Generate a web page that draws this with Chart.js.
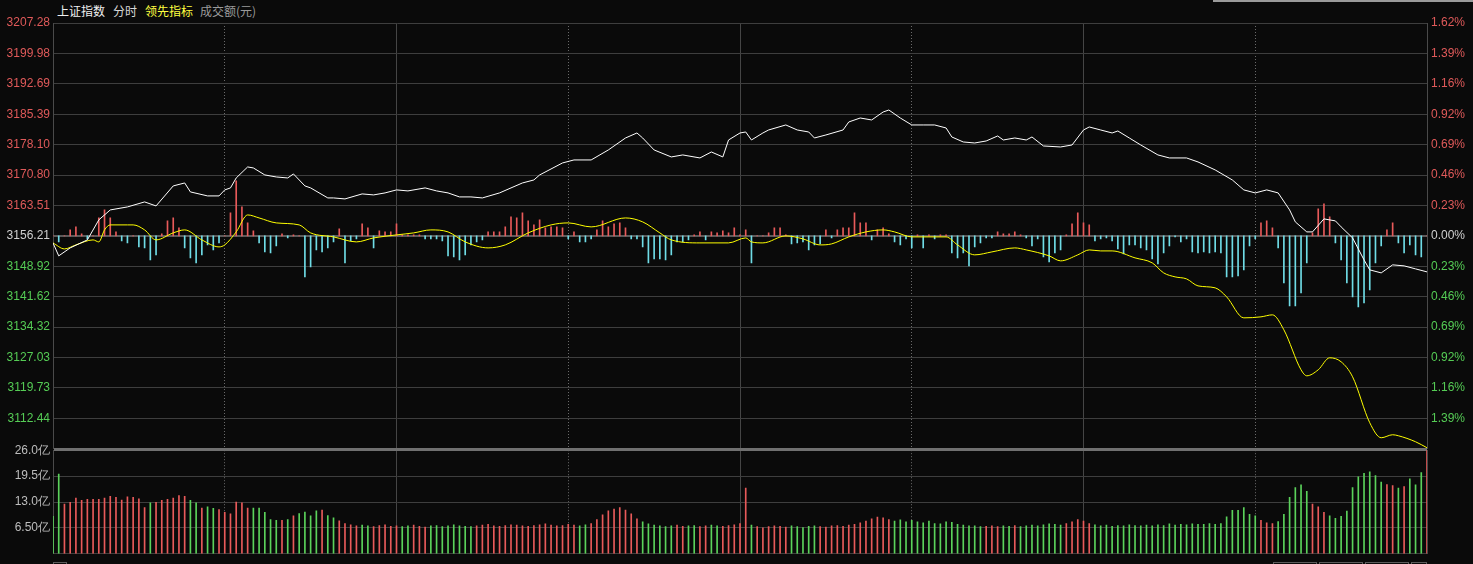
<!DOCTYPE html>
<html><head><meta charset="utf-8">
<script src="https://cdn.jsdelivr.net/npm/chart.js@4"></script>
<style>
html,body{margin:0;padding:0;background:#0a0a0a;width:1473px;height:564px;overflow:hidden;}
#c1{position:absolute;left:0;top:0;}
#c2{position:absolute;left:0;top:440px;}
.hd{position:absolute;top:3px;font:12px "Noto Sans CJK SC","Liberation Sans",sans-serif;white-space:nowrap;line-height:16px;}
#topbar{position:absolute;left:1213px;top:0;width:260px;height:2px;background:#9a9a9a;}
.tb{position:absolute;top:562px;height:4px;border:1px solid #5a5a5a;border-bottom:none;box-sizing:border-box;}
</style></head><body>
<div class="hd" style="left:57px;color:#f0f0f0">上证指数</div>
<div class="hd" style="left:113px;color:#d8d8d8">分时</div>
<div class="hd" style="left:145px;color:#ffff40">领先指标</div>
<div class="hd" style="left:200px;color:#9a9a9a">成交额(元)</div>
<div id="topbar"></div>
<canvas id="c1" width="1473" height="460"></canvas>
<canvas id="c2" width="1473" height="124"></canvas>
<div class="tb" style="left:53px;width:14px"></div>
<div class="tb" style="left:1273px;width:44px"></div>
<div class="tb" style="left:1319px;width:44px"></div>
<div class="tb" style="left:1365px;width:44px"></div>
<div class="tb" style="left:1411px;width:16px"></div>
<script>
const prevClose = 3156.21;
const priceTicks = [3207.28,3199.98,3192.69,3185.39,3178.10,3170.80,3163.51,3156.21,3148.92,3141.62,3134.32,3127.03,3119.73,3112.44,3105.14];
const pctLabels = ['1.62%','1.39%','1.16%','0.92%','0.69%','0.46%','0.23%','0.00%','0.23%','0.46%','0.69%','0.92%','1.16%','1.39%',''];
const volTicks = [0,6.5,13,19.5,26];
const volLabels = ['','6.50亿','13.0亿','19.5亿','26.0亿'];

const indexMinutes = [0,1,3,6,8,10,13,16,18,21,23,24,27,29,30,31,32,34,35,37,39,41,42,44,45,48,49,51,54,56,58,60,62,65,67,69,71,73,75,78,80,82,84,85,89,91,94,97,100,102,103,105,108,110,113,115,117,118,120,121,122,124,125,128,130,132,133,135,138,139,141,143,145,146,148,150,152,154,156,157,159,161,163,165,166,168,170,171,173,176,178,180,181,183,185,186,188,190,193,195,198,200,203,206,208,210,212,214,216,217,219,220,222,224,225,227,229,230,232,234,236,238,240];
const indexValues = [3154.53,3151.42,3153.33,3155.25,3160.05,3162.44,3163.16,3164.36,3163.40,3168.20,3168.91,3166.76,3165.80,3165.80,3167.24,3167.72,3170.11,3172.75,3172.51,3170.83,3170.35,3170.11,3171.07,3168.20,3167.72,3165.32,3165.32,3165.08,3166.28,3166.04,3166.52,3167.24,3167.00,3167.72,3167.00,3166.52,3165.56,3165.56,3165.32,3166.52,3167.72,3168.91,3169.63,3170.83,3173.71,3174.43,3174.43,3176.82,3179.70,3180.90,3179.70,3176.82,3175.15,3175.63,3174.91,3176.34,3175.15,3179.22,3180.90,3181.14,3179.22,3180.90,3181.62,3182.82,3181.62,3181.14,3179.70,3180.42,3181.62,3183.54,3184.49,3184.02,3185.93,3186.41,3184.49,3182.82,3182.82,3182.82,3182.10,3179.94,3178.74,3178.50,3178.98,3180.18,3179.22,3179.70,3179.22,3179.94,3177.78,3177.54,3178.02,3181.62,3182.34,3181.62,3180.90,3181.38,3179.70,3178.02,3175.63,3174.91,3174.91,3173.95,3172.03,3169.63,3167.24,3166.52,3167.24,3166.52,3162.44,3159.57,3157.17,3157.17,3160.29,3159.81,3158.37,3155.73,3150.46,3148.06,3147.34,3149.26,3149.02,3148.30,3147.58];

const leadMinutes = [0,2,4,7,8,9,10,13,14,16,18,21,23,26,29,30,32,34,36,39,43,45,49,53,56,60,63,66,69,72,76,79,83,87,90,94,100,103,106,108,113,118,121,122,124,128,131,134,136,139,142,145,147,150,156,158,161,164,168,170,174,176,179,181,183,185,189,192,194,196,198,200,203,205,208,211,213,215,218,219,221,223,225,227,230,232,234,235,238,240];
const leadValues = [3154.53,3153.09,3154.05,3155.25,3154.77,3157.65,3158.85,3158.85,3158.85,3157.65,3155.25,3156.93,3157.65,3155.25,3153.57,3154.05,3157.17,3161.24,3160.52,3159.33,3158.85,3156.93,3155.97,3154.77,3155.73,3156.45,3156.93,3157.65,3157.17,3154.77,3153.33,3154.05,3156.93,3158.85,3159.33,3158.37,3160.52,3159.57,3156.93,3155.25,3154.53,3154.53,3155.73,3154.77,3154.53,3156.21,3155.49,3154.05,3154.29,3155.97,3157.17,3157.65,3157.17,3155.97,3155.97,3154.05,3151.66,3152.37,3153.33,3152.85,3151.42,3150.22,3151.66,3152.85,3152.61,3152.61,3150.94,3149.74,3147.34,3146.38,3145.90,3144.22,3143.75,3141.59,3136.55,3136.79,3137.27,3133.68,3124.09,3122.65,3124.09,3126.97,3126.01,3122.41,3111.39,3107.79,3108.51,3108.27,3106.83,3105.39];

const leadBars = [
0,-6,0,6,9,2,-3,0,18,26,
18,4,-5,-7,0,-11,-12,-24,-19,2,
15,18,8,-12,-22,-27,-19,-9,-14,-7,
0,23,55,29,13,5,-7,-16,-17,-10,
2,-2,1,0,-41,-31,-14,-16,-12,-6,
7,-27,-5,-3,12,8,-12,5,4,4,
12,1,1,1,1,-3,-3,-3,-5,-20,
-21,-24,-19,-9,-6,-4,4,4,4,9,
19,18,23,15,11,16,8,9,9,8,
-3,4,-6,-6,-3,6,15,9,12,13,
8,-3,-3,-11,-27,-23,-23,-24,-19,-6,
-6,-4,1,4,-4,4,3,5,3,8,
1,6,-27,0,0,3,8,8,1,-8,
-7,-6,-14,-9,-8,6,-2,6,8,8,
23,13,13,-4,6,8,2,-6,-9,-3,
-12,1,-12,1,-3,1,1,-17,-22,-17,
-30,-11,-7,-2,-2,4,2,2,4,1,
-2,-10,-3,-21,-26,-17,-14,1,12,23,
13,11,-5,-3,-2,-5,-13,-18,-9,-9,
-12,-14,-23,-28,-17,-10,-1,-6,-3,-16,
-17,-16,-17,-16,-17,-41,-41,-40,-34,-10,
-3,13,15,8,-12,-47,-70,-70,-57,-27,
3,27,32,19,-7,-24,-47,-61,-71,-67,
-54,-27,-10,6,13,-7,-17,-9,-19,-21,
0];

const volumes = [
9.4,20.0,12.5,12.9,14.0,13.4,13.7,13.7,13.7,14.0,
14.4,14.2,13.5,14.3,14.2,13.8,11.6,12.8,12.9,13.4,
13.7,14.0,14.6,14.4,13.4,12.8,11.5,11.8,11.4,11.1,
10.4,10.0,13.0,12.8,11.5,11.5,11.5,10.4,8.6,8.4,
8.4,8.6,9.5,10.1,10.5,9.5,10.8,11.0,9.6,9.0,
8.3,7.6,7.3,7.0,7.2,7.0,6.8,7.1,7.3,6.9,
7.0,6.8,7.0,7.2,6.9,6.7,7.0,7.1,6.8,7.0,
7.3,7.0,6.9,6.8,7.0,7.2,7.4,7.0,6.9,7.1,
7.3,7.2,7.0,6.9,7.1,7.3,7.5,7.2,7.0,7.1,
7.4,7.2,7.0,7.3,7.6,8.6,9.8,10.8,11.2,11.6,
11.0,10.0,8.8,8.0,7.5,7.2,7.0,6.8,7.0,7.2,
6.9,7.0,7.1,6.8,7.0,7.2,7.0,6.9,7.1,7.3,
7.6,16.5,7.2,6.8,6.5,6.8,7.0,6.9,6.7,7.0,
6.8,6.6,6.9,7.0,6.8,6.7,7.0,7.1,6.9,7.2,
7.4,7.8,8.2,8.8,9.2,9.0,8.6,8.2,8.5,8.0,
8.4,8.0,7.8,8.2,7.6,7.5,8.0,7.9,7.4,7.2,
7.0,7.0,6.8,6.9,7.0,6.8,7.0,6.9,7.1,6.8,
7.0,7.2,7.0,7.3,7.5,7.4,7.2,7.6,8.0,8.6,
8.2,7.6,7.3,7.0,7.2,6.9,7.1,7.0,7.3,7.1,
7.0,7.2,7.0,7.3,7.1,7.5,7.2,7.4,7.3,7.5,
7.4,7.4,7.6,7.4,7.6,9.3,10.9,10.9,11.6,9.9,
9.5,8.4,7.8,7.6,8.1,9.9,14.2,16.6,17.3,15.7,
12.5,11.8,10.4,9.5,8.9,9.4,10.7,16.6,19.3,20.2,
20.6,19.6,18.0,17.4,17.1,16.5,16.9,18.8,17.3,20.4,
30];

const volUp = [
0,0,1,1,1,1,1,1,1,1,
1,1,1,1,1,1,1,0,1,1,
1,1,1,1,0,0,1,0,0,1,
1,1,1,1,1,0,0,0,0,0,
1,0,1,0,0,0,0,1,0,0,
1,1,1,1,0,0,1,1,1,1,
1,0,0,1,1,1,0,0,0,0,
0,0,0,0,1,1,1,1,1,1,
1,1,1,1,1,1,1,1,1,1,
1,1,0,0,1,1,1,1,1,1,
1,1,1,0,0,0,0,0,0,1,
1,0,0,1,1,0,0,1,1,1,
1,1,0,1,1,1,1,1,1,0,
0,0,0,0,1,1,1,1,1,1,
1,1,1,1,1,1,1,0,0,0,
0,0,0,0,0,0,0,0,0,0,
0,0,0,1,1,1,0,0,1,0,
0,0,0,0,0,0,0,1,1,1,
1,1,0,0,0,0,0,0,0,0,
0,0,0,0,0,0,0,0,0,0,
0,0,0,0,0,0,0,0,0,0,
0,1,1,1,0,0,0,0,0,0,
1,1,1,0,0,0,0,0,0,0,
0,0,0,1,1,0,1,0,0,0,
1];

const RED = '#e85a5a', GREEN = '#5bd25b', CYAN = '#6fdce6';
const GRID = '#3e3e3e', FONT = {family:'"Liberation Sans", Arial, sans-serif', size:12};
const minutes = volumes.map((v,i)=>i);
const solidX = [60,120,180], dottedX = [30,90,150,210];

function xAxes(){
  return {
    x: {type:'linear',min:0,max:240,position:'bottom',offset:false,
        ticks:{display:false},grid:{offset:false,drawTicks:false,color:'#454545',lineWidth:1},border:{display:false},
        afterBuildTicks:s=>{s.ticks=solidX.map(v=>({value:v}));}, afterFit:s=>{s.height=0;}},
    x2:{type:'linear',min:0,max:240,position:'bottom',offset:false,
        ticks:{display:false},grid:{offset:false,drawTicks:false,color:'#6a6a6a',lineWidth:1},border:{display:false,dash:[1,2]},
        afterBuildTicks:s=>{s.ticks=dottedX.map(v=>({value:v}));}, afterFit:s=>{s.height=0;}}
  };
}

function priceColor(v){ return v>prevClose+0.01 ? '#e05a5a' : (v<prevClose-0.01 ? '#55cc55' : '#d0d0d0'); }

new Chart(document.getElementById('c1'),{
  data:{datasets:[
    {type:'line',label:'上证指数',data:indexMinutes.map((m,i)=>({x:m,y:indexValues[i]})),borderColor:'#ffffff',borderWidth:1,pointRadius:0,tension:0,yAxisID:'y',xAxisID:'x',order:0},
    {type:'line',label:'领先指标',data:leadMinutes.map((m,i)=>({x:m,y:leadValues[i]})),borderColor:'#ffff00',borderWidth:1,pointRadius:0,cubicInterpolationMode:'monotone',yAxisID:'y',xAxisID:'x',order:1},
    {type:'bar',label:'领先柱',data:leadBars.map((v,i)=>({x:minutes[i],y:v})),backgroundColor:leadBars.map(v=>v>=0?RED:CYAN),barThickness:1,yAxisID:'yBar',xAxisID:'x',order:2}
  ]},
  options:{
    responsive:false,animation:false,
    layout:{padding:{top:23,bottom:11,left:0,right:0}},
    plugins:{legend:{display:false},tooltip:{enabled:false}},
    scales:Object.assign(xAxes(),{
      y:{position:'left',min:3105.14,max:3207.28,
         afterBuildTicks:s=>{s.ticks=priceTicks.map(v=>({value:v}));},
         afterFit:s=>{s.width=53;},
         ticks:{autoSkip:false,padding:3,font:FONT,
           callback:(v,i)=> i===priceTicks.length-1 ? '' : priceTicks[i].toFixed(2),
           color:c=>priceColor(priceTicks[c.index])},
         grid:{drawTicks:false,
           color:c=>c.index===7?'#5a5a5a':(c.index===14?'#707070':GRID),
           lineWidth:c=>(c.index===7||c.index===14)?2:1},
         border:{display:true,color:'#4a4a4a'}},
      yR:{position:'right',min:3105.14,max:3207.28,
         afterBuildTicks:s=>{s.ticks=priceTicks.map(v=>({value:v}));},
         afterFit:s=>{s.width=46;},
         ticks:{autoSkip:false,padding:4,font:FONT,
           callback:(v,i)=>pctLabels[i],
           color:c=>priceColor(priceTicks[c.index])},
         grid:{drawOnChartArea:false,drawTicks:false},
         border:{display:true,color:'#4a4a4a'}},
      yBar:{display:false,min:-213,max:213}
    })
  }
});

new Chart(document.getElementById('c2'),{
  data:{datasets:[
    {type:'bar',label:'成交额',data:volumes.map((v,i)=>({x:minutes[i],y:v})),backgroundColor:volUp.map(u=>u?RED:GREEN),barThickness:1,yAxisID:'y',xAxisID:'x'}
  ]},
  options:{
    responsive:false,animation:false,
    layout:{padding:{top:9,bottom:3,left:0,right:0}},
    plugins:{legend:{display:false},tooltip:{enabled:false}},
    scales:Object.assign(xAxes(),{
      y:{position:'left',min:0,max:26,
         afterBuildTicks:s=>{s.ticks=volTicks.map(v=>({value:v}));},
         afterFit:s=>{s.width=53;},
         ticks:{autoSkip:false,padding:3,font:FONT,color:'#bdbdbd',callback:(v,i)=>volLabels[i]},
         grid:{drawTicks:false,color:c=>c.index===4?'#707070':GRID,lineWidth:c=>c.index===4?2:1},
         border:{display:true,color:'#4a4a4a'}},
      yR:{position:'right',min:0,max:26,afterFit:s=>{s.width=46;},
         ticks:{display:false},grid:{drawOnChartArea:false,drawTicks:false},
         border:{display:true,color:'#4a4a4a'}}
    })
  }
});
</script>
</body></html>
